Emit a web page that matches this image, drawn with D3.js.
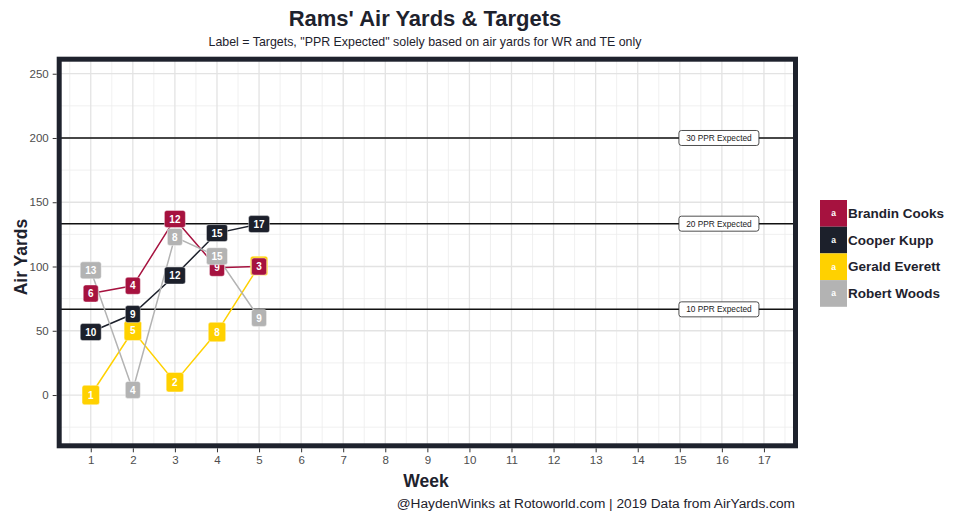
<!DOCTYPE html>
<html>
<head>
<meta charset="utf-8">
<script src="https://cdn.jsdelivr.net/npm/d3@7"></script>
<style>
  body { margin: 0; background: #fff; }
  svg { font-family: "Liberation Sans", Arial, Helvetica, sans-serif; }
</style>
</head>
<body>
<svg id="chart" width="960" height="520"></svg>
<script>
// ---- Data ----
const weeks = [1, 2, 3, 4, 5];
const players = ["Brandin Cooks", "Cooper Kupp", "Gerald Everett", "Robert Woods"];
const colors = ["#A6123F", "#1C202B", "#FFD100", "#B3B3B3"];
const cooksAirYards = [79, 85, 137, 99, 100];
const cooksTargets = [6, 4, 12, 9, 3];
const kuppAirYards = [49, 63, 93, 126, 133];
const kuppTargets = [10, 9, 12, 15, 17];
const everettAirYards = [0, 50, 10, 49, 100.5];
const everettTargets = [1, 5, 2, 8, 3];
const woodsAirYards = [97, 4, 123, 108, 60];
const woodsTargets = [13, 4, 8, 15, 9];
const pprLevels = [66.67, 133.33, 200];
const pprLabels = ["10 PPR Expected", "20 PPR Expected", "30 PPR Expected"];
const pprLabelWeek = 15.93;
const xTicks = d3.range(1, 18);
const yTicks = [0, 50, 100, 150, 200, 250];

const seriesAir = [cooksAirYards, kuppAirYards, everettAirYards, woodsAirYards];
const seriesTgt = [cooksTargets, kuppTargets, everettTargets, woodsTargets];
const series = players.map((p, i) => ({
  name: p, color: colors[i],
  pts: weeks.map((w, j) => ({ week: w, air: seriesAir[i][j], tgt: seriesTgt[i][j] }))
}));

// ---- Layout ----
const svg = d3.select("#chart");
const L = 59.2, R = 795.5, T = 59.2, B = 445.8;
const x = d3.scaleLinear().domain([0.25, 17.75]).range([L, R]);
const y = d3.scaleLinear().domain([-39.5, 261.3]).range([B, T]);

// grid
const grid = svg.append("g");
const minorX = d3.range(0.5, 18, 1);
const minorY = d3.range(-25, 275, 50);
grid.selectAll(".mx").data(minorX.filter(v => x(v) > L && x(v) < R)).join("line")
  .attr("x1", d => x(d)).attr("x2", d => x(d)).attr("y1", T).attr("y2", B)
  .attr("stroke", "#ececec").attr("stroke-width", 0.8);
grid.selectAll(".my").data(minorY.filter(v => y(v) > T && y(v) < B)).join("line")
  .attr("y1", d => y(d)).attr("y2", d => y(d)).attr("x1", L).attr("x2", R)
  .attr("stroke", "#ececec").attr("stroke-width", 0.8);
grid.selectAll(".Mx").data(xTicks).join("line")
  .attr("x1", d => x(d)).attr("x2", d => x(d)).attr("y1", T).attr("y2", B)
  .attr("stroke", "#e3e3e3").attr("stroke-width", 1.3);
grid.selectAll(".My").data(yTicks).join("line")
  .attr("y1", d => y(d)).attr("y2", d => y(d)).attr("x1", L).attr("x2", R)
  .attr("stroke", "#e3e3e3").attr("stroke-width", 1.3);

// PPR lines
svg.append("g").selectAll("line").data(pprLevels).join("line")
  .attr("x1", L).attr("x2", R).attr("y1", d => y(d)).attr("y2", d => y(d))
  .attr("stroke", "#111").attr("stroke-width", 1.5);

// series lines
const line = d3.line().x(d => x(d.week)).y(d => y(d.air));
svg.append("g").selectAll("path").data(series).join("path")
  .attr("d", d => line(d.pts)).attr("fill", "none")
  .attr("stroke", d => d.color).attr("stroke-width", 1.5);

// PPR labels
const pl = svg.append("g").selectAll("g").data(pprLevels).join("g")
  .attr("transform", d => `translate(${x(pprLabelWeek)},${y(d)})`);
pl.append("rect").attr("x", -40).attr("y", -7.5).attr("width", 80).attr("height", 15)
  .attr("rx", 2.5).attr("fill", "#fff").attr("stroke", "#222").attr("stroke-width", 0.8);
pl.append("text").text((d, i) => pprLabels[i]).attr("text-anchor", "middle")
  .attr("dy", "0.35em").attr("font-size", 8.3).attr("fill", "#222");

// point labels (Everett drawn slightly larger beneath)
const order = [2, 0, 1, 3];
order.forEach(si => {
  const s = series[si];
  const g = svg.append("g").selectAll("g").data(s.pts).join("g")
    .attr("transform", d => `translate(${x(d.week)},${y(d.air)})`);
  const extra = si === 2 ? 1.2 : 0;
  g.append("rect")
    .attr("x", d => -(String(d.tgt).length === 1 ? 7.5 : 10.5) - extra)
    .attr("y", -8.5 - extra)
    .attr("width", d => (String(d.tgt).length === 1 ? 15 : 21) + 2 * extra)
    .attr("height", 17 + 2 * extra)
    .attr("rx", 2.5).attr("fill", s.color).attr("stroke", "#fff").attr("stroke-width", 0.4);
  g.append("text").text(d => d.tgt).attr("text-anchor", "middle").attr("dy", "0.36em")
    .attr("font-size", 10).attr("font-weight", "bold").attr("fill", "#fff");
});

// panel border
svg.append("rect").attr("x", L).attr("y", T).attr("width", R - L).attr("height", B - T)
  .attr("fill", "none").attr("stroke", "#1E222D").attr("stroke-width", 5);

// axes
const xAxis = svg.append("g").attr("transform", `translate(0,${B + 2.5})`)
  .call(d3.axisBottom(x).tickValues(xTicks).tickSize(4).tickPadding(4));
const yAxis = svg.append("g").attr("transform", `translate(${L - 2.5},0)`)
  .call(d3.axisLeft(y).tickValues(yTicks).tickSize(4).tickPadding(4));
[xAxis, yAxis].forEach(a => {
  a.select(".domain").remove();
  a.selectAll(".tick line").attr("stroke", "#333").attr("stroke-width", 1);
  a.selectAll(".tick text").attr("fill", "#4d4d4d").attr("font-size", 11.5)
    .attr("font-family", "Liberation Sans, Arial, sans-serif");
});

// titles
svg.append("text").attr("x", 425).attr("y", 26).attr("text-anchor", "middle")
  .attr("font-size", 22).attr("font-weight", "bold").attr("fill", "#1E222D")
  .text("Rams' Air Yards & Targets");
svg.append("text").attr("x", 425).attr("y", 46).attr("text-anchor", "middle")
  .attr("font-size", 12.4).attr("fill", "#1E222D")
  .text("Label = Targets, \"PPR Expected\" solely based on air yards for WR and TE only");
svg.append("text").attr("x", 426).attr("y", 487).attr("text-anchor", "middle")
  .attr("font-size", 17.5).attr("font-weight", "bold").attr("fill", "#1E222D").text("Week");
svg.append("text").attr("transform", "translate(27,257) rotate(-90)").attr("text-anchor", "middle")
  .attr("font-size", 17.5).attr("font-weight", "bold").attr("fill", "#1E222D").text("Air Yards");
svg.append("text").attr("x", 795).attr("y", 508).attr("text-anchor", "end")
  .attr("font-size", 13.7).attr("fill", "#1E222D")
  .text("@HaydenWinks at Rotoworld.com | 2019 Data from AirYards.com");

// legend
const lg = svg.append("g").attr("transform", "translate(820,200)");
const li = lg.selectAll("g").data(series).join("g")
  .attr("transform", (d, i) => `translate(0,${i * 26.7})`);
li.append("rect").attr("width", 27).attr("height", 26.7).attr("fill", d => d.color);
li.append("text").attr("x", 13.5).attr("y", 13.35).attr("dy", "0.35em").attr("text-anchor", "middle")
  .attr("font-size", 8.5).attr("font-weight", "bold").attr("fill", "#fff").text("a");
li.append("text").attr("x", 28).attr("y", 13.35).attr("dy", "0.35em")
  .attr("font-size", 13.5).attr("font-weight", "bold").attr("fill", "#1E222D").text(d => d.name);
</script>
</body>
</html>
